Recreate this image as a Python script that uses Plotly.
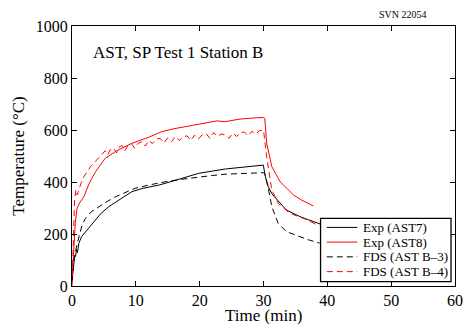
import plotly.graph_objects as go

# ---- data ----
t_ast7 = [0, 0.2, 0.4, 0.55, 0.7, 0.85, 1.07, 1.5, 2, 3.2, 4.5, 5.75, 7, 8, 9.4, 11, 13.6,
          16, 18, 19.8, 22, 24, 26, 28, 29.97, 30.3, 30.75, 31.3, 32.1, 33, 33.6, 34.5,
          35.7, 37, 38.8, 39.5]
T_ast7 = [20, 60, 110, 113, 140, 128, 164, 190, 205, 241, 278, 305, 325, 340, 363, 375, 388,
          405, 420, 433, 442, 450, 455, 460, 465, 420, 382, 355, 331, 308, 292, 280,
          267, 255, 238, 233]

t_ast8 = [0, 0.15, 0.3, 0.5, 0.8, 1.2, 1.85, 2.7, 3.7, 5.2, 7, 9.4, 12, 14, 16, 19,
          21, 22.7, 24, 26.3, 28.9, 30, 30.2, 30.5, 31.3, 32.6, 34.7, 36, 37.8]
T_ast8 = [10, 80, 151, 240, 299, 320, 343, 395, 440, 491, 520, 549, 572, 593, 605, 619,
          626, 635, 632, 642, 647, 648, 645, 549, 459, 401, 350, 330, 308]

t_b3 = [0, 0.3, 0.6, 0.8, 1.2, 1.6, 2.1, 3, 4.2, 5.5, 6.8, 8.5, 9.9, 12, 14.6, 17, 20,
        22, 24, 26, 28, 30, 30.2, 30.75, 31.3, 32.3, 33.6, 35.7, 37, 38.8]
T_b3 = [20, 100, 140, 164, 200, 235, 260, 285, 305, 325, 343, 360, 376, 388, 401, 410, 420,
        425, 430, 432, 434, 436, 430, 376, 305, 241, 209, 190, 178, 165]

t_b4 = [0, 0.2, 0.4, 0.6, 0.8, 1.07, 1.4, 1.85, 2.4, 2.9, 3.5, 4.0, 4.7, 5.2, 5.6, 6.0,
        6.5, 7.0, 7.4, 7.8, 8.3, 8.8, 9.3, 9.8, 10.4, 11.0, 11.5, 12.0, 12.6, 13.2, 13.8,
        14.4, 15.0, 15.6, 16.2, 16.8, 17.4, 18.0, 18.6, 19.2, 19.8, 20.4, 21.0, 21.6,
        22.2, 22.8, 23.4, 24.0, 24.6, 25.2, 25.8, 26.4, 27.0, 27.6, 28.2, 28.8, 29.4,
        30.0, 30.5, 31.3, 32.3, 34.1, 36.7, 38.7]
T_b4 = [0, 200, 330, 370, 350, 369, 395, 420, 440, 459, 475, 488, 504, 520, 505, 525,
        530, 512, 535, 540, 520, 543, 548, 530, 550, 555, 538, 560, 548, 565, 568,
        550, 570, 555, 575, 560, 572, 578, 560, 580, 565, 582, 586, 568, 590, 575,
        585, 581, 568, 588, 575, 590, 592, 578, 595, 585, 598, 600, 497, 369, 318,
        280, 256, 231]

series_names = ["Exp (AST7)", "Exp (AST8)", "FDS (AST B\u20133)", "FDS (AST B\u20134)"]
series_colors = ["black", "red", "black", "red"]
series_dash = ["solid", "solid", "6px,4px", "6px,4px"]

x_ticks = [0, 10, 20, 30, 40, 50, 60]
y_ticks = [0, 200, 400, 600, 800, 1000]

FONT = "Liberation Serif, Times New Roman, serif"

# plot area geometry (pixels)
W, H = 465, 324
L, R, T, B = 71.5, 455.5, 25.5, 286


def px(x):
    return (x - L) / (R - L)


def py(y):
    return (B - y) / (B - T)


fig = go.Figure()
for xs, ys, name, col, dsh in zip([t_ast7, t_ast8, t_b3, t_b4], [T_ast7, T_ast8, T_b3, T_b4],
                                  series_names, series_colors, series_dash):
    fig.add_trace(go.Scatter(x=xs, y=ys, mode="lines", name=name, showlegend=False,
                             line=dict(color=col, width=1, dash=dsh)))

axis_common = dict(showgrid=False, zeroline=False, showline=True, linecolor="black",
                   linewidth=1, mirror="ticks", ticks="inside", ticklen=5,
                   tickcolor="black", automargin=False,
                   tickfont=dict(family=FONT, size=16, color="black"))

fig.update_layout(
    width=W, height=H,
    margin=dict(l=L, r=W - R, t=T, b=H - B),
    paper_bgcolor="white", plot_bgcolor="white",
    font=dict(family=FONT, size=16, color="black"),
    xaxis=dict(range=[0, 60], tickvals=x_ticks, **axis_common),
    yaxis=dict(range=[0, 1000], tickvals=y_ticks,
               title=dict(text="Temperature (\u00b0C)", font=dict(family=FONT, size=17), standoff=6),
               **axis_common),
    showlegend=False,
)

# x-axis title placed as in the original (just below the tick labels)
fig.add_annotation(text="Time (min)", xref="paper", yref="paper", x=px(264), y=py(315.5),
                   xanchor="center", yanchor="middle", showarrow=False, borderpad=0,
                   font=dict(family=FONT, size=17, color="black"))

# manual legend (compact, like the original)
fig.add_shape(type="rect", xref="paper", yref="paper",
              x0=px(320.7), x1=px(451.5), y0=py(281.7), y1=py(218.3),
              line=dict(color="black", width=1.3), fillcolor="white", layer="above")
item_y = [227.3, 242.0, 256.8, 271.6]
for yy, name, col, dsh in zip(item_y, series_names, series_colors, series_dash):
    fig.add_shape(type="line", xref="paper", yref="paper",
                  x0=px(327), x1=px(357.5), y0=py(yy), y1=py(yy),
                  line=dict(color=col, width=1, dash=dsh), layer="above")
    fig.add_annotation(text=name, xref="paper", yref="paper", x=px(361), y=py(yy),
                       xanchor="left", yanchor="middle", showarrow=False,
                       font=dict(family=FONT, size=13, color="black"))

fig.add_annotation(text="AST, SP Test 1 Station B", xref="paper", yref="paper",
                   x=px(91), y=py(52), xanchor="left", yanchor="middle", showarrow=False,
                   font=dict(family=FONT, size=17, color="black"))
fig.add_annotation(text="SVN 22054", xref="paper", yref="paper",
                   x=px(429.5), y=py(14), xanchor="right", yanchor="middle", showarrow=False,
                   font=dict(family=FONT, size=10, color="black"))

fig.write_html("out.html", config={"displayModeBar": False},
               post_script="document.body.style.margin='0';")
